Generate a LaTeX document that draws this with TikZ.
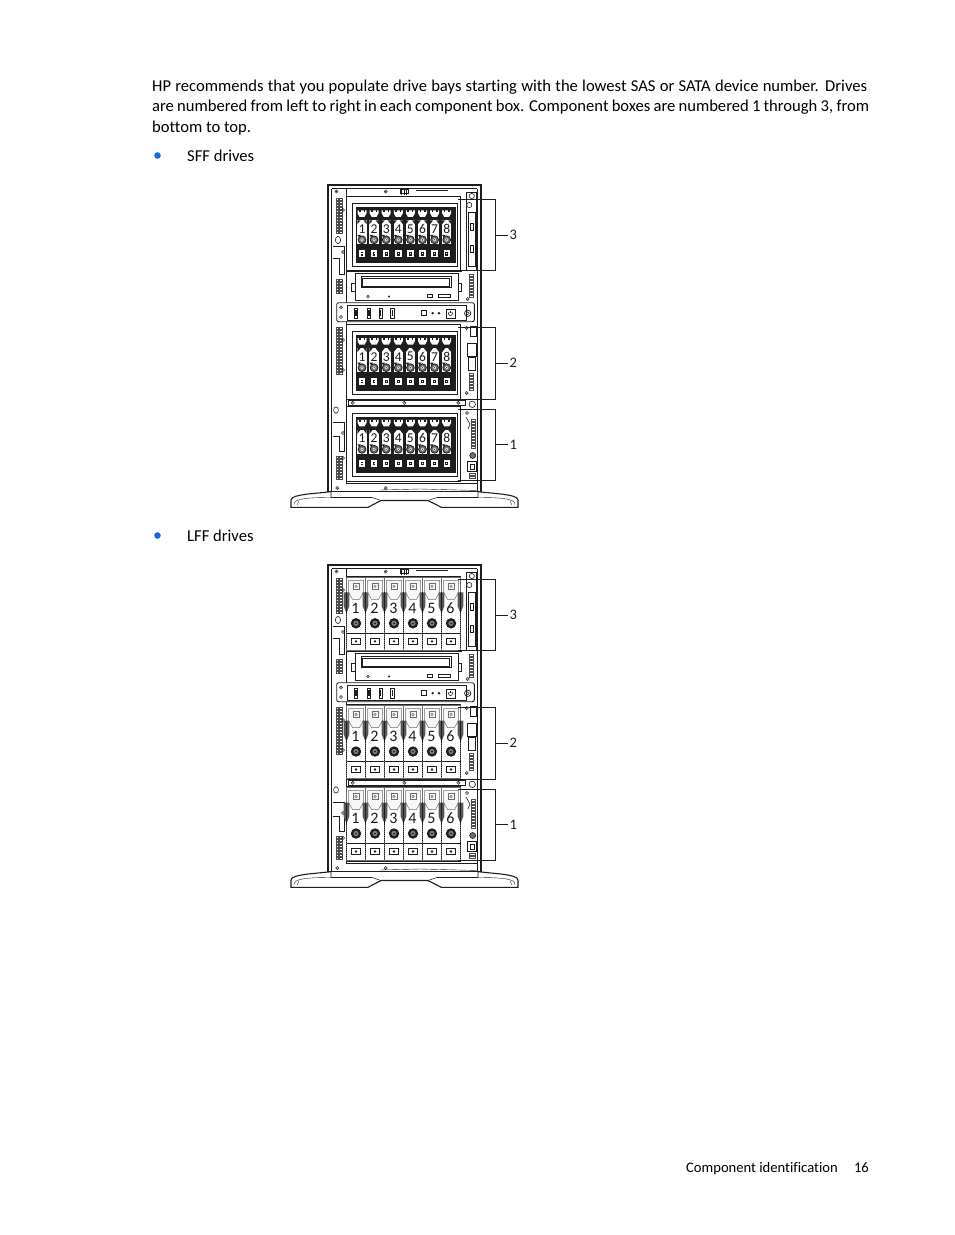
\documentclass[tikz,border=0pt]{standalone}
\usepackage{fontspec}
\setmainfont{Carlito}[Ligatures={NoCommon,NoDiscretionary,NoRare}]
\definecolor{hpblue}{RGB}{22,102,232}
\definecolor{dk}{RGB}{30,30,30}
\definecolor{md}{RGB}{110,110,110}
\definecolor{lg}{RGB}{205,205,205}
\tikzset{
 body/.style={anchor=base west, inner sep=0, font=\fontsize{16.6}{20}\selectfont, text=black},
 foot/.style={inner sep=0, font=\fontsize{14.6}{18}\selectfont, text=black},
 ln/.style={line width=0.6, draw=dk},
 vn/.style={line width=0.3, draw=dk!80},
 snum/.style={inner sep=0, font=\fontsize{13.5}{13.5}\selectfont, text=dk},
 lnum/.style={inner sep=0, font=\fontsize{16}{16}\selectfont, text=dk},
 blab/.style={inner sep=0, font=\fontsize{14.5}{14.5}\selectfont, text=dk},
 brk/.style={line width=0.7, draw=dk},
}
\newcommand\Vent[3]{%
  \pgfmathsetmacro\vyb{#2+3}%
  \foreach \yy in {#2,\vyb,...,#3}{%
    \draw[vn] (#1,\yy) rectangle ++(2.6,2);
    \draw[vn] (#1+3.6,\yy) rectangle ++(2.6,2);
  }}
\newcommand\Screw[2]{\draw[line width=0.5,dk] (#1,#2) circle[radius=1.6pt]; \fill[dk] (#1,#2) circle[radius=0.5pt];}
% SFF bay, #1 = top of dark drive area, #2 = name prefix
\newcommand\SffBay[2]{%
  \draw[ln] (352.5,#1-4) rectangle (457.5,#1+59);
  \fill[dk] (355.5,#1) rectangle (455.5,#1+56);
  \foreach \i in {1,...,8}{%
    \pgfmathsetmacro\xa{356.5+12.1*(\i-1)}%
    \pgfmathsetmacro\xb{\xa+11}%
    \pgfmathsetmacro\xc{\xa+5.5}%
    \fill[white] (\xa+1,#1+3) -- (\xb-1,#1+3) -- (\xb-1,#1+6) -- (\xb-3,#1+9.5) -- (\xa+3,#1+9.5) -- (\xa+1,#1+6) -- cycle;
    \fill[dk] (\xa+2.5,#1+3) rectangle (\xa+4,#1+5);
    \fill[dk] (\xb-4,#1+3) rectangle (\xb-2.5,#1+5);
    \fill[white] (\xa+0.8,#1+13) rectangle (\xb-0.8,#1+37);
    \fill[dk] (\xa+0.8,#1+13) -- (\xa+4,#1+13) -- (\xa+0.8,#1+17) -- cycle;
    \fill[dk] (\xb-0.8,#1+13) -- (\xb-4,#1+13) -- (\xb-0.8,#1+17) -- cycle;
    \node[snum] (#2d\i) at (\xc,#1+21.5) {\i};
    \fill[dk] (\xa+0.8,#1+27.5) -- (\xa+4.5,#1+27.5) -- (\xa+2.6,#1+30) -- cycle;
    \fill[md] (\xc,#1+32.5) circle[radius=3.9pt];
    \draw[dk,line width=0.8] (\xc,#1+32.5) circle[radius=3.9pt];
    \fill[white] (\xc,#1+32.5) circle[radius=1.7pt];
    \fill[dk] (\xc,#1+32.5) circle[radius=0.7pt];
    \fill[white] (\xa+2.3,#1+43) rectangle (\xb-2.3,#1+50);
    \fill[dk] (\xa+4.2,#1+44.8) rectangle (\xb-4.2,#1+48.2);
    \fill[white] (\xc-0.6,#1+46) rectangle (\xc+0.6,#1+47);
  }}
% LFF bay, #1 = top of cage, #2 = prefix
\newcommand\LffBay[2]{%
  \foreach \i in {1,...,6}{%
    \pgfmathsetmacro\xa{346.5+19*(\i-1)}%
    \pgfmathsetmacro\xb{\xa+19}%
    \pgfmathsetmacro\xc{\xa+9.5}%
    \draw[line width=0.5,md,fill=white] (\xa,#1) rectangle (\xb,#1+73);
    \draw[line width=0.5,md,fill=gray!6] (\xa+2,#1+3) -- (\xb-2,#1+3) -- (\xb-2,#1+15) -- (\xb-6,#1+22) -- (\xa+6,#1+22) -- (\xa+2,#1+15) -- cycle;
    \draw[line width=0.5,md] (\xc-3,#1+6) rectangle (\xc+3,#1+12);
    \draw[line width=0.5,md] (\xc,#1+9) circle[radius=1.2pt];
    \node[lnum] (#2d\i) at (\xc-0.5,#1+31) {\i};
    \fill[dk] (\xc,#1+46) circle[radius=5.2pt];
    \fill[gray] (\xc,#1+46) circle[radius=2.6pt];
    \fill[dk] (\xc,#1+46) circle[radius=1pt];
    \draw[line width=0.7,dk] (\xa,#1+56) -- (\xb,#1+56);
    \draw[line width=0.9,dk] (\xc-4.5,#1+61) rectangle (\xc+4.5,#1+67);
    \fill[dk] (\xc,#1+64) circle[radius=1.3pt];
  }
  \foreach \j in {0,...,6}{%
    \pgfmathsetmacro\xr{346.5+19*\j}%
    \fill[md!80!black] (\xr-2.8,#1+15) -- (\xr+2.8,#1+15) -- (\xr+2.8,#1+29) -- (\xr,#1+36) -- (\xr-2.8,#1+29) -- cycle;
    \draw[line width=1.6,dk,dash pattern=on 1pt off 1pt] (\xr,#1+36) -- (\xr,#1+72);
    \draw[line width=0.5,dk] (\xr,#1+15) -- (\xr,#1+36);
  }}
\newcommand\SrvFrame{%
 % chassis
 \draw[line width=1.3,dk] (328,185) rectangle (481,491.7);
 \draw[ln] (331.5,188.5) -- (477,188.5);
 \draw[ln] (331.5,188.5) -- (331.5,491.7);
 \draw[ln] (477,188.5) -- (477,491.7);
 \draw[ln] (346.5,188.5) -- (346.5,483.5);
 % top details
 \Screw{336.5}{191.5}
 \Screw{385.7}{191.5}
 \draw[ln] (400,189) rectangle (408,193);
 \foreach \xx in {401.5,404,406.5} \draw[ln] (\xx,189) -- (\xx,195);
 \draw[line width=1.6,dk] (415.5,190.4) -- (448.3,190.4);
 % left side
 \Vent{336}{198}{231}
 \Vent{336}{279}{293}
 \Vent{336}{327}{372}
 \Vent{336}{456}{479}
 \Screw{343}{210}
 \Screw{343}{252}
 \Screw{343}{340}
 \Screw{343}{370}
 \Screw{343}{433}
 \Screw{343}{458}
 \draw[ln] (338,240) ellipse [x radius=2.6pt, y radius=3.6pt];
 \draw[ln] (333,246) -- (344.5,246) -- (344.5,274) -- (339,274) -- (339,258) -- (333,258);
 \draw[ln] (336,410) ellipse [x radius=2.4pt, y radius=3.2pt];
 \draw[ln] (333,422) -- (344.5,422) -- (344.5,451) -- (339,451) -- (339,436) -- (333,436);
 % right side
 \draw[ln] (466.5,192) rectangle (476,270);
 \draw[ln,fill=white] (471.8,196) circle[radius=2.6pt];
 \draw[ln,fill=white] (469.3,205) circle[radius=2.6pt];
 \draw[ln] (468,212) rectangle (475,266);
 \draw[ln] (470,223) rectangle (473,230);
 \draw[ln] (470,245) rectangle (473,252);
 \foreach \yy in {274,277,...,296} \draw[vn] (469.5,\yy) rectangle ++(4,2);
 \Screw{467.7}{299}
 \Screw{466.7}{328}
 \draw[ln] (470,326) rectangle (476,336);
 \draw[ln] (467,343) rectangle (476,356);
 \draw[ln] (468.5,357) rectangle (475,370);
 \foreach \yy in {373,376,...,390} \draw[vn] (469.5,\yy) rectangle ++(4,2);
 \Screw{466.7}{393}
 \draw[ln,fill=white] (472.3,404.3) circle[radius=3.2pt];
 \Screw{467}{413}
 \draw[ln] (466,417) -- (470,424) -- (468,429);
 \foreach \yy in {419,422,...,448} \draw[vn] (471,\yy) rectangle ++(4,2);
 \fill[md] (472.7,455.5) circle[radius=3pt];
 \draw[ln] (472.7,455.5) circle[radius=3pt];
 \draw[ln] (467.7,461.7) rectangle (476.7,471.7);
 \draw[ln] (470,464) rectangle (474.5,469.5);
 \foreach \yy in {473,476} \draw[vn] (469.5,\yy) rectangle ++(6,2);
 % cage boxes
 \draw[ln,fill=white] (346.5,196.5) rectangle (460,270.5);
 \draw[line width=1,dk] (346.5,271.8) -- (462,271.8);
 \draw[ln,fill=white] (346.5,324.5) rectangle (460,399);
 \draw[ln,fill=white] (348,400.5) rectangle (465,405.2);
 \Screw{352.7}{402.8}
 \Screw{404.3}{402.8}
 \Screw{458.3}{402.8}
 \draw[ln,fill=white] (346.5,406.5) rectangle (460,481.5);
 % optical drive
 \draw[ln] (351.5,283) rectangle (355,291);
 \draw[ln] (458.3,283) rectangle (461.5,291);
 \draw[line width=0.8,dk,fill=white] (355,273.3) rectangle (458.3,300.7);
 \draw[ln] (361,276.7) rectangle (451,287.3);
 \draw[line width=0.4,dk] (362.5,278.2) rectangle (449.5,285.8);
 \draw[line width=0.5,dk] (368,296.5) circle[radius=1.3pt];
 \draw[line width=0.5,dk] (389,296.5) circle[radius=0.8pt];
 \draw[line width=0.5,dk] (427.7,294.7) rectangle (432.3,297.7);
 \draw[line width=0.5,dk] (438,294.7) rectangle (450.7,297.7);
 % front panel
 \draw[line width=0.9,dk,fill=white,rounded corners=2] (336.7,302.7) rectangle (474.3,321.7);
 \draw[ln] (347,305) rectangle (466.7,320);
 \Screw{341}{307.5}
 \Screw{341}{317}
 \foreach \xx in {356,369,380.7,392.3}{%
   \draw[line width=0.7,dk] (\xx-1.8,308.3) rectangle (\xx+1.8,318.3);
   \fill[dk] (\xx-0.6,310.3) rectangle (\xx+0.6,316.3);}
 \draw[line width=0.9,dk] (421.7,310.7) rectangle (426.7,315.7);
 \fill[dk] (432.7,313.2) circle[radius=1.3pt];
 \fill[dk] (439,313.2) circle[radius=1.3pt];
 \draw[line width=0.9,dk] (446,309) rectangle (455,318.3);
 \draw[line width=0.6,dk] (449.2,312) arc[start angle=130, end angle=410, radius=2pt];
 \draw[line width=0.6,dk] (450.5,310.8) -- (450.5,313.3);
 \draw[line width=0.7,dk] (467.7,313.3) circle[radius=3.2pt];
 \draw[line width=0.5,dk] (467.7,313.3) circle[radius=1.5pt];
 % bottom
 \draw[ln] (346.5,483.5) -- (477,483.5);
 \Screw{337.3}{488}
 \Screw{385.7}{488}
 \draw[line width=0.4,dk] (380,490) -- (420,489) -- (478,490.5);
 % base
 \draw[line width=1.1,dk] (331,491.7) -- (308,494) .. controls (298,495.3) and (291,496.8) .. (291,500) -- (291,507.3) -- (368,507.3) -- (381,500.5) -- (428,500.5) -- (441.3,507.3) -- (518,507.3) -- (518,500) .. controls (518,496.8) and (511,495.3) .. (501,494) -- (478,491.7);
 \draw[ln] (331,491.7) -- (331,497.5) -- (372,497.5) -- (381,500.5);
 \draw[ln] (428,500.5) -- (437,497.5) -- (478,497.5) -- (478,491.7);
 \draw[line width=0.4,dk] (294,504.5) .. controls (294,499) and (305,497.5) .. (331,497.5);
 \draw[line width=0.4,dk] (515,504.5) .. controls (515,499) and (504,497.5) .. (478,497.5);
 \draw[line width=0.4,dk] (297,505) -- (299,501);
 \draw[line width=0.4,dk] (512,505) -- (510,501);
}
\newcommand\Brackets[1]{%
 \draw[brk] (458,199) -- (495.7,199) -- (495.7,270) -- (458,270);
 \draw[brk] (495.7,235) -- (507.5,235);
 \node[blab, anchor=west] (#1c3) at (509.5,235) {3};
 \draw[brk] (458,327) -- (495.7,327) -- (495.7,399) -- (458,399);
 \draw[brk] (495.7,363) -- (507.5,363);
 \node[blab, anchor=west] (#1c2) at (509.5,363) {2};
 \draw[brk] (458,409) -- (495.7,409) -- (495.7,480.3) -- (458,480.3);
 \draw[brk] (495.7,444.5) -- (507.5,444.5);
 \node[blab, anchor=west] (#1c1) at (509.5,444.5) {1};
}
\begin{document}
\begin{tikzpicture}[x=1pt,y=-1pt]
\useasboundingbox[fill=white] (0,0) rectangle (954,1235);
% text
\node[body] (t1) at (152,91.5) {\makebox[715pt][s]{HP recommends that you populate drive bays starting with the lowest SAS or SATA device number. Drives}};
\node[body] (t2) at (152,111.8) {\makebox[717pt][s]{are numbered from left to right in each component box. Component boxes are numbered 1 through 3, from}};
\node[body] (t3) at (152,132) {bottom to top.};
\fill[hpblue] (157.5,155.5) circle[radius=3.3pt];
\node[body] (sff) at (187,161) {SFF drives};
\fill[hpblue] (157.5,535.5) circle[radius=3.3pt];
\node[body] (lff) at (187,541) {LFF drives};
\node[foot, anchor=base west] (f1) at (686,1172.5) {Component identification};
\node[foot, anchor=base east] (f2) at (869,1172.5) {16};
% SFF server
\begin{scope}
 \SrvFrame
 \SffBay{207.3}{sa}
 \SffBay{335.2}{sb}
 \SffBay{416.8}{sc}
 \Brackets{s}
\end{scope}
% LFF server
\begin{scope}[shift={(0,380)}]
 \SrvFrame
 \LffBay{197.3}{la}
 \LffBay{325.5}{lb}
 \LffBay{407.5}{lc}
 \Brackets{l}
\end{scope}
\end{tikzpicture}
\end{document}
